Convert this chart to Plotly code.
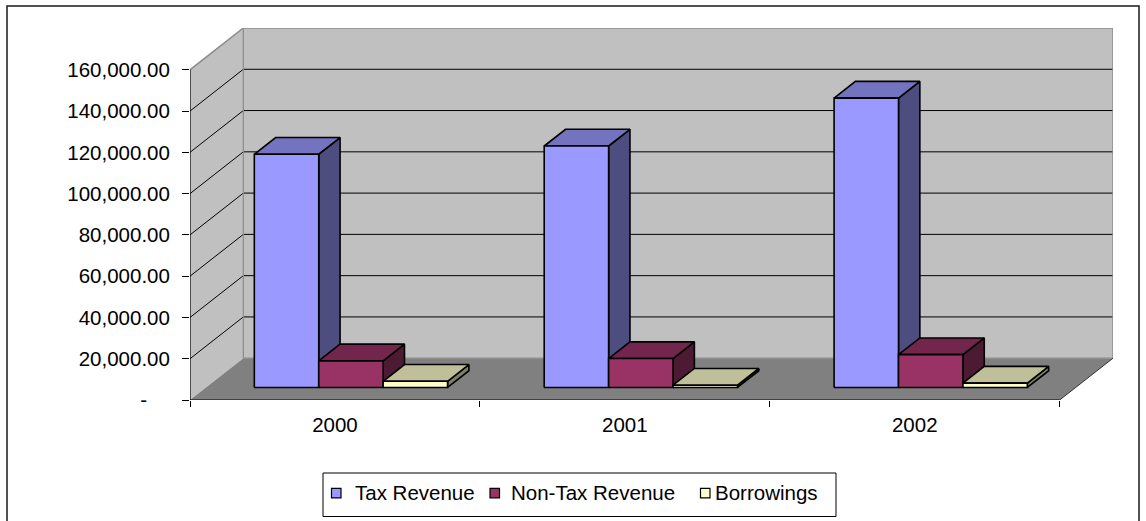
import plotly.graph_objects as go

# ---------------- data ----------------
years = ["2000", "2001", "2002"]
series_names = ["Tax Revenue", "Non-Tax Revenue", "Borrowings"]
tax_revenue = [113000, 117000, 140200]
non_tax_revenue = [12900, 14000, 15900]
borrowings = [3000, 1100, 2100]
y_tick_values = [0, 20000, 40000, 60000, 80000, 100000, 120000, 140000, 160000]
y_tick_labels = ["-\u00a0\u00a0\u00a0\u00a0", "20,000.00", "40,000.00", "60,000.00", "80,000.00",
                 "100,000.00", "120,000.00", "140,000.00", "160,000.00"]

series_values = [tax_revenue, non_tax_revenue, borrowings]

# ---------------- style ----------------
FONT = "Liberation Sans, Arial, sans-serif"
FS = 20.5
front_colors = ["#9999FF", "#993366", "#FFFFCC"]
top_colors = ["#7373BF", "#73264D", "#BFBF99"]
side_colors = ["#4D4D80", "#4D1A33", "#808066"]

# 3D projection (depth offset in axis units)
DX = 0.184          # horizontal depth shift (category units)
DY = 20250          # vertical depth shift (value units)
F0, F1 = 0.3, 0.7   # bar front/back depth fractions
GAP = 1.5
n_series = len(series_values)
W = 1.0 / (n_series + GAP)
YMAX = y_tick_values[-1]
NCAT = len(years)

fig = go.Figure()


def poly(xs, ys, fill, line_color=None, lw=1.0):
    xs = list(xs) + [xs[0]]
    ys = list(ys) + [ys[0]]
    fig.add_trace(go.Scatter(
        x=xs, y=ys, mode="lines", fill="toself", fillcolor=fill,
        line=dict(color=line_color if line_color else fill, width=lw if line_color else 0),
        hoverinfo="skip", showlegend=False))


def line(xs, ys, color, lw=1.0):
    fig.add_trace(go.Scatter(x=xs, y=ys, mode="lines", line=dict(color=color, width=lw),
                             hoverinfo="skip", showlegend=False))


# walls and floor
poly([0, DX, DX, 0], [0, DY, YMAX + DY, YMAX], "#C0C0C0")                     # side wall
poly([DX, NCAT + DX, NCAT + DX, DX], [DY, DY, YMAX + DY, YMAX + DY], "#C0C0C0")  # back wall
poly([0, NCAT, NCAT + DX, DX], [0, 0, DY, DY], "#808080")                      # floor

# gridlines
for t in y_tick_values[1:-1]:
    line([0, DX, NCAT + DX], [t, t + DY, t + DY], "#000000", 1)

# wall outlines
line([0, DX, NCAT + DX, NCAT + DX], [YMAX, YMAX + DY, YMAX + DY, DY], "#8C8C8C", 1.5)
line([DX, DX, NCAT + DX], [YMAX + DY, DY, DY], "#8C8C8C", 1.2)
line([NCAT, NCAT + DX], [0, DY], "#333333", 1)

# bars
a, b = F0 * DX, F0 * DY
c, d = F1 * DX, F1 * DY
for i in range(NCAT):
    for j in range(n_series):
        v = series_values[j][i]
        x0 = i + (GAP / 2 + j) * W
        x1 = x0 + W
        # side face
        poly([x1 + a, x1 + c, x1 + c, x1 + a], [b, d, v + d, v + b], side_colors[j], "#000000", 1.6)
        # top face
        poly([x0 + a, x1 + a, x1 + c, x0 + c], [v + b, v + b, v + d, v + d], top_colors[j], "#000000", 1.6)
        # front face
        poly([x0 + a, x1 + a, x1 + a, x0 + a], [b, b, v + b, v + b], front_colors[j], "#000000", 1.6)

# axis lines
line([0, 0], [0, YMAX], "#000000", 1.2)
line([0, NCAT], [0, 0], "#000000", 1.2)

# ---------------- layout ----------------
L, T, PW, PH = 190, 28, 923, 372


def px(x):
    return (x - L) / PW


def py(y):
    return (T + PH - y) / PH


shapes = []
annotations = []
# outer chart border
shapes.append(dict(type="rect", xref="paper", yref="paper", x0=px(7), x1=px(1139), y0=py(540), y1=py(6),
                   line=dict(color="#1a1a1a", width=1.5), fillcolor="rgba(0,0,0,0)"))
# legend box
shapes.append(dict(type="rect", xref="paper", yref="paper", x0=px(323), x1=px(836), y0=py(516.5), y1=py(473),
                   line=dict(color="#000000", width=1), fillcolor="white"))
sq_x = [331.5, 490, 700.5]
txt_x = [352.5, 508.5, 713]
for k, name in enumerate(series_names):
    shapes.append(dict(type="rect", xref="paper", yref="paper", x0=px(sq_x[k]), x1=px(sq_x[k] + 9.5),
                       y0=py(497.8), y1=py(488.3), line=dict(color="#000000", width=1.2),
                       fillcolor=front_colors[k]))
    annotations.append(dict(text=name, xref="paper", yref="paper", x=px(txt_x[k]), y=py(492.5),
                            xanchor="left", yanchor="middle", showarrow=False,
                            font=dict(family=FONT, size=FS, color="#000000")))

fig.update_layout(
    width=1146, height=521,
    margin=dict(l=L, r=1146 - L - PW, t=T, b=521 - T - PH),
    paper_bgcolor="white", plot_bgcolor="white",
    showlegend=False,
    font=dict(family=FONT, size=FS, color="#000000"),
    shapes=shapes, annotations=annotations,
    xaxis=dict(range=[0, NCAT + DX], showgrid=False, zeroline=False, showline=False,
               tickmode="array", tickvals=[i + 0.5 for i in range(NCAT)], ticktext=years,
               ticks="", ticklabelstandoff=10,
               minor=dict(tickmode="array", tickvals=list(range(NCAT + 1)), ticks="outside",
                          ticklen=6, tickcolor="#000000", tickwidth=1, showgrid=False),
               tickfont=dict(family=FONT, size=FS), fixedrange=True),
    yaxis=dict(range=[0, YMAX + DY], showgrid=False, zeroline=False, showline=False,
               tickmode="array", tickvals=y_tick_values, ticktext=y_tick_labels,
               ticks="outside", ticklen=7, tickcolor="#000000", tickwidth=1,
               ticklabelstandoff=8, tickfont=dict(family=FONT, size=FS), fixedrange=True),
)

fig.write_html("out.html")
